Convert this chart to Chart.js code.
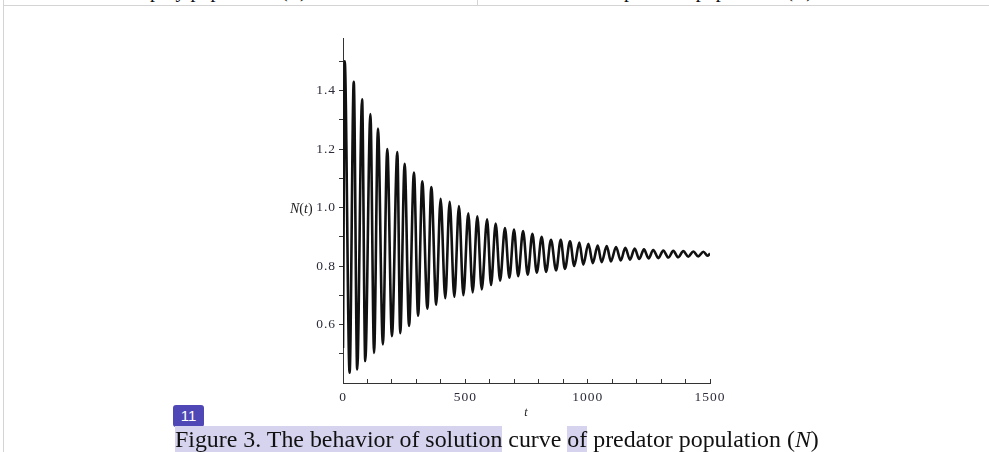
<!DOCTYPE html>
<html>
<head>
<meta charset="utf-8">
<script src="https://cdn.jsdelivr.net/npm/chart.js@4/dist/chart.umd.min.js"></script>
<style>
  html, body { margin: 0; padding: 0; background: #fff; }
  body { width: 989px; height: 452px; position: relative; overflow: hidden; font-family: "Liberation Serif", serif; }
  #c { position: absolute; left: 0; top: 0; }
  .ln { position: absolute; background: #d4d4d4; }
  .toptxt { position: absolute; top: -20px; font-size: 20px; line-height: 20px; color: #111; white-space: nowrap; }
  #ylab { position: absolute; left: 290px; top: 201px; font-size: 14px; color: #222; white-space: nowrap; }
  #badge { position: absolute; left: 173px; top: 405px; width: 31px; height: 22px; background: #5047b6; border-radius: 3px;
           color: #fff; font-family: "Liberation Sans", sans-serif; font-size: 15px; line-height: 22px; text-align: center; }
  #caption { position: absolute; left: 175px; top: 427px; font-size: 23.9px; line-height: 25px; color: #111; white-space: nowrap; }
  .hl { background: #d5d3ee; }
</style>
</head>
<body>
<div class="ln" style="left:3px;top:0;width:1px;height:452px;"></div>
<div class="ln" style="left:3px;top:5px;width:986px;height:1px;"></div>
<div class="ln" style="left:477px;top:0;width:1px;height:5px;"></div>
<div class="toptxt" style="left:150px;">prey population (<i>P</i>)</div>
<div class="toptxt" style="left:624px;">predator population (<i>N</i>)</div>
<canvas id="c" width="989" height="452"></canvas>
<div id="ylab"><i>N</i>(<i>t</i>)</div>
<div id="badge">11</div>
<div id="caption"><span class="hl">Figure 3. The behavior of solution</span> curve <span class="hl">of</span> predator population (<i>N</i>)</div>
<script>
// ---- data ----
const startPoint = [0, 0.52];
const endPoint = [1500, 0.843];
const peakT = [7, 44, 78, 112, 143, 181, 222, 252, 290, 324, 361, 399, 436, 474, 512, 549, 589, 624, 662, 699, 736, 774, 812, 850, 890, 928, 966, 1003, 1041, 1078, 1116, 1154, 1192, 1230, 1268, 1309, 1350, 1391, 1432, 1473];
const peakN = [1.50, 1.43, 1.37, 1.32, 1.27, 1.20, 1.19, 1.15, 1.12, 1.09, 1.07, 1.03, 1.02, 1.005, 0.98, 0.97, 0.96, 0.945, 0.93, 0.925, 0.92, 0.91, 0.90, 0.89, 0.89, 0.885, 0.88, 0.876, 0.87, 0.868, 0.865, 0.862, 0.86, 0.857, 0.855, 0.853, 0.852, 0.851, 0.85, 0.849];
const troughT = [27, 58, 91, 127, 163, 200, 234, 270, 307, 345, 381, 418, 455, 492, 530, 567, 605, 642, 680, 716, 755, 792, 830, 871, 907, 945, 982, 1021, 1057, 1095, 1135, 1173, 1211, 1249, 1289, 1330, 1370, 1411, 1452, 1490];
const troughN = [0.435, 0.446, 0.475, 0.503, 0.532, 0.56, 0.57, 0.595, 0.63, 0.654, 0.668, 0.69, 0.695, 0.70, 0.71, 0.72, 0.735, 0.75, 0.76, 0.765, 0.77, 0.777, 0.78, 0.785, 0.79, 0.80, 0.805, 0.81, 0.813, 0.816, 0.819, 0.822, 0.824, 0.826, 0.827, 0.829, 0.83, 0.832, 0.833, 0.835];

const xTicks = [0, 100, 200, 300, 400, 500, 600, 700, 800, 900, 1000, 1100, 1200, 1300, 1400, 1500];
const xTickLabels = ['0', '500', '1000', '1500'];
const yTicks = [0.5, 0.6, 0.7, 0.8, 0.9, 1.0, 1.1, 1.2, 1.3, 1.4, 1.5];
const yTickLabels = ['0.6', '0.8', '1.0', '1.2', '1.4'];
const xRange = [0, 1500];
const yRange = [0.40, 1.58];
const xTitle = 't';

// ---- build the series table ----
const points = [{x: startPoint[0], y: startPoint[1]}];
peakT.forEach((t, i) => points.push({x: t, y: peakN[i]}));
troughT.forEach((t, i) => points.push({x: t, y: troughN[i]}));
points.push({x: endPoint[0], y: endPoint[1]});
points.sort((a, b) => a.x - b.x);

function labelFor(value, labels) {
  const s = labels.find(l => Math.abs(parseFloat(l) - value) < 1e-9);
  return s === undefined ? '' : s;
}

const tickFont = {family: 'Liberation Serif', size: 13.5};

const spacing = {
  id: 'spacing',
  beforeDraw(chart) { chart.ctx.letterSpacing = '1px'; }
};

new Chart(document.getElementById('c'), {
  type: 'line',
  plugins: [spacing],
  data: {
    datasets: [{
      data: points,
      borderColor: '#111',
      borderWidth: 2.6,
      pointRadius: 0,
      cubicInterpolationMode: 'monotone',
      fill: false
    }]
  },
  options: {
    responsive: false,
    animation: false,
    devicePixelRatio: 1,
    layout: {padding: {left: 0, top: 38, right: 279, bottom: 32}},
    plugins: {legend: {display: false}, tooltip: {enabled: false}},
    scales: {
      x: {
        type: 'linear',
        min: xRange[0], max: xRange[1],
        afterBuildTicks: s => { s.ticks = xTicks.map(v => ({value: v})); },
        afterFit: s => { s.height = 37; },
        ticks: {
          autoSkip: false, maxRotation: 0, padding: 10,
          font: tickFont, color: '#2c2c3a',
          callback: v => labelFor(v, xTickLabels)
        },
        grid: {drawOnChartArea: false, drawTicks: true, tickLength: -4, color: '#333', lineWidth: 1},
        border: {display: true, color: '#333', width: 1},
        title: {display: true, text: xTitle, padding: {top: 0, bottom: 0},
                font: {family: 'Liberation Serif', size: 12, style: 'italic'}, color: '#222'}
      },
      y: {
        type: 'linear',
        min: yRange[0], max: yRange[1],
        afterBuildTicks: s => { s.ticks = yTicks.map(v => ({value: v})); },
        afterFit: s => { s.width = 343; },
        ticks: {
          autoSkip: false, padding: 3,
          font: tickFont, color: '#2c2c3a',
          callback: v => labelFor(v, yTickLabels)
        },
        grid: {drawOnChartArea: false, drawTicks: true, tickLength: 4, color: '#333', lineWidth: 1},
        border: {display: true, color: '#333', width: 1}
      }
    }
  }
});
</script>
</body>
</html>
